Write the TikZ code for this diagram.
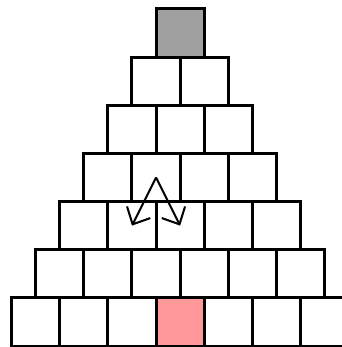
\documentclass[tikz,border=0pt]{standalone}
\usepackage{xcolor}
\usepackage{tikz}
\usetikzlibrary{arrows.meta}
\definecolor{Ink}{HTML}{000000}
\definecolor{Apex}{HTML}{A0A0A0}
\definecolor{Base}{HTML}{FF9999}
\tikzset{
  cell/.style={draw=Ink,fill=white,line width=1.8pt,minimum size=1cm,inner sep=0pt,anchor=south west},
  apexcell/.style={cell,fill=Apex},
  basecell/.style={cell,fill=Base},
  move/.style={-{Straight Barb[length=2.8mm,width=5.4mm]},line width=1.2pt,color=Ink}
}
\begin{document}
\begin{tikzpicture}
  \useasboundingbox (-0.208,0.012) rectangle (6.892,7.216);
  \foreach \r in {0,...,6}{
    \pgfmathtruncatemacro{\n}{6-\r}
    \foreach \i in {0,...,\n}{
      \node[cell] (c-\r-\i) at (\r*0.5+\i,\r) {};
    }
  }
  \node[basecell] (c-0-3) at (3,0) {};
  \node[apexcell] (c-6-0) at (3,6) {};
  \draw[move] (c-3-1.center) -- (c-2-1.center);
  \draw[move] (c-3-1.center) -- (c-2-2.center);
\end{tikzpicture}
\end{document}
